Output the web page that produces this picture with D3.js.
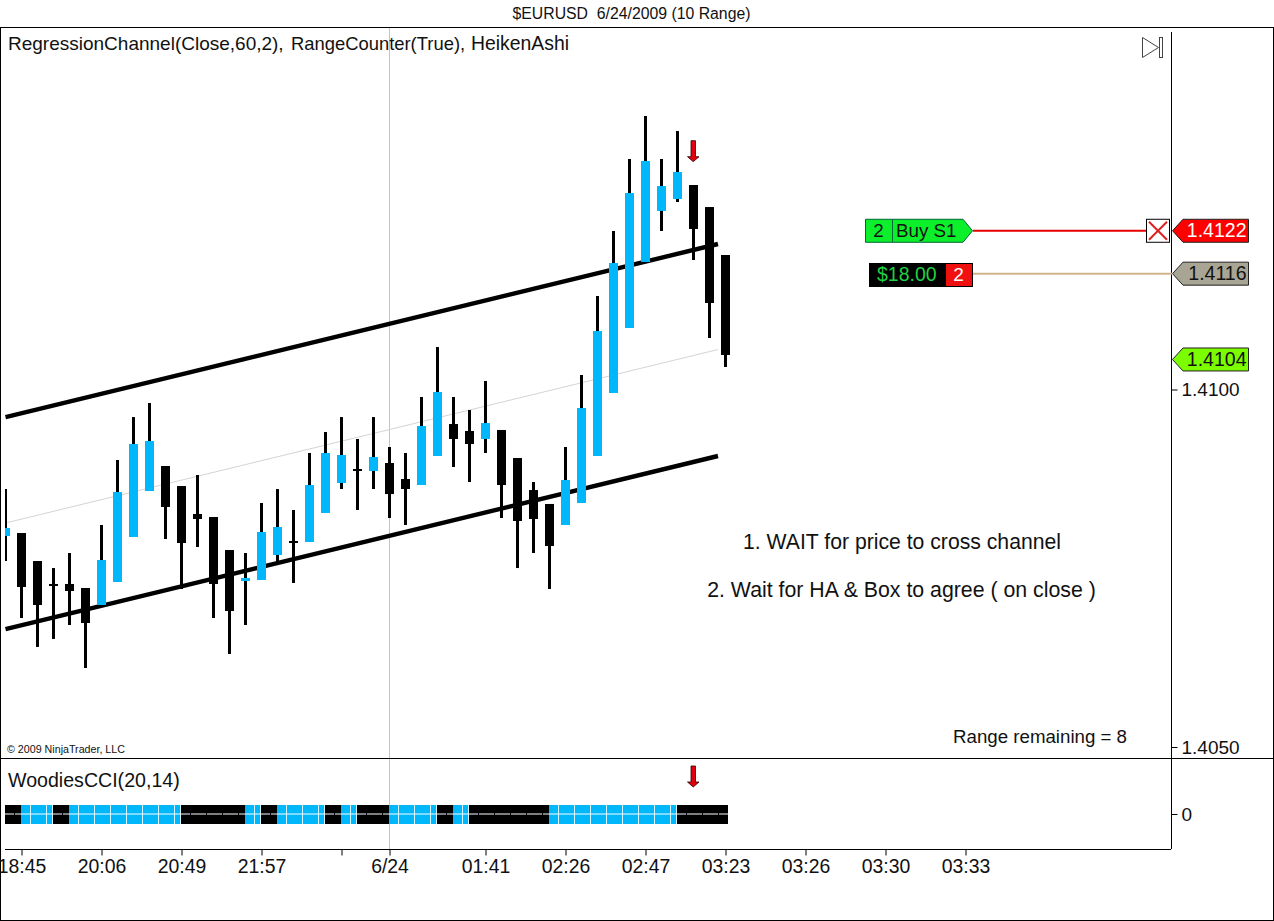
<!DOCTYPE html>
<html><head><meta charset="utf-8">
<script src="https://cdn.jsdelivr.net/npm/d3@7/dist/d3.min.js"></script>
<style>html,body{margin:0;padding:0;background:#fff;overflow:hidden}svg{display:block}text{font-family:"Liberation Sans",Arial,sans-serif;fill:#111}</style>
</head><body><svg id="c" width="1274" height="921"></svg>
<script>
const opens=[1.407951,1.407993,1.407601,1.407280,1.407280,1.407224,1.406986,1.407308,1.407937,1.408580,1.408930,1.408650,1.408259,1.408217,1.407755,1.407322,1.407336,1.407685,1.407881,1.407867,1.408273,1.408692,1.408888,1.408860,1.408972,1.408748,1.408664,1.409070,1.409517,1.409420,1.409308,1.409434,1.409042,1.408594,1.408399,1.408105,1.408413,1.409070,1.409951,1.410860,1.411783,1.412497,1.412664,1.412860,1.412552,1.411881];
const closes=[1.408063,1.407238,1.406986,1.407252,1.407182,1.406734,1.407615,1.408566,1.409238,1.409280,1.408357,1.407853,1.408189,1.407280,1.406902,1.407364,1.408007,1.408077,1.407853,1.408664,1.409112,1.409084,1.408860,1.409056,1.408538,1.408608,1.409490,1.409965,1.409308,1.409238,1.409531,1.408664,1.408161,1.408189,1.407811,1.408734,1.409741,1.410818,1.411769,1.412748,1.413196,1.412846,1.413042,1.412245,1.411210,1.410483];
const highs=[1.408608,1.407993,1.407601,1.407503,1.407713,1.407224,1.408105,1.409014,1.409615,1.409811,1.408930,1.408650,1.408804,1.408217,1.407755,1.407713,1.408413,1.408608,1.408315,1.409112,1.409406,1.409615,1.409308,1.409615,1.409196,1.409112,1.409895,1.410594,1.409895,1.409713,1.410119,1.409434,1.409042,1.408706,1.408399,1.409196,1.410203,1.411308,1.412217,1.413224,1.413825,1.413224,1.413615,1.412860,1.412552,1.411881];
const lows=[1.407601,1.406804,1.406399,1.406511,1.406706,1.406105,1.406986,1.407308,1.407937,1.408580,1.407909,1.407210,1.407797,1.406804,1.406301,1.406706,1.407336,1.407587,1.407294,1.407867,1.408273,1.408608,1.408315,1.408608,1.408203,1.408105,1.408664,1.409070,1.408916,1.408706,1.409112,1.408203,1.407503,1.407713,1.407210,1.408105,1.408413,1.409070,1.409951,1.410860,1.411783,1.412217,1.412622,1.411811,1.410720,1.410315];
const channelIdx=[0,44.53];
const channelUpper=[1.409615,1.412035];
const channelMid=[1.408133,1.410559];
const channelLower=[1.406650,1.409070];
const cciState=[0,1,1,0,1,1,1,1,1,1,1,0,0,0,0,1,0,1,1,1,0,1,0,0,1,1,1,0,1,0,0,0,0,0,1,1,1,1,1,1,1,1,0,0,0,0];
const timeIdx=[1,6,11,16,21,24,30,35,40,45,50,55,60];
const timeLabels=["18:45","20:06","20:49","21:57","","6/24","01:41","02:26","02:47","03:23","03:26","03:30","03:33"];
const priceTicks=[1.4100,1.4050];
const orderPrices=[1.41222,1.41162,1.41042];
const arrowIdx=43;
const arrowPrice=1.41348;

const svg=d3.select("#c");
const x=d3.scaleLinear().domain([0,45]).range([5.5,725.5]);
const y=d3.scaleLinear().domain([1.4050,1.4100]).range([747,389.5]);
const yc=d3.scaleLinear().domain([-1,1]).range([824,805]);
const BLUE="#00b7fb";
const defs=svg.append("defs");
defs.append("clipPath").attr("id","main").append("rect").attr("x",5).attr("y",28).attr("width",1166).attr("height",730);
defs.append("clipPath").attr("id","cc").append("rect").attr("x",5).attr("y",759).attr("width",723).attr("height",90);

svg.append("rect").attr("x",0.5).attr("y",27.5).attr("width",1273).attr("height",893).attr("fill","#fff").attr("stroke","#000");
svg.append("text").attr("x",631.5).attr("y",18.5).attr("text-anchor","middle").style("font-size","15.8px").attr("xml:space","preserve").text("$EURUSD  6/24/2009 (10 Range)");

// grid
svg.append("line").attr("x1",389.5).attr("x2",389.5).attr("y1",28).attr("y2",849).attr("stroke","#c4c4c4");

// channel
const main=svg.append("g").attr("clip-path","url(#main)");
const ln=v=>d3.line().x((d,i)=>x(channelIdx[i])).y(d=>y(d))(v);
main.append("path").attr("d",ln(channelMid)).attr("stroke","#d4d4d4").attr("fill","none");
main.append("path").attr("d",ln(channelUpper)).attr("stroke","#000").attr("stroke-width",4.4).attr("fill","none");
main.append("path").attr("d",ln(channelLower)).attr("stroke","#000").attr("stroke-width",4.4).attr("fill","none");

// candles
const idx=d3.range(opens.length);
main.selectAll("line.w").data(idx).join("line").attr("class","w")
 .attr("x1",i=>x(i)).attr("x2",i=>x(i)).attr("y1",i=>y(highs[i])).attr("y2",i=>y(lows[i]))
 .attr("stroke","#000").attr("stroke-width",3);
main.selectAll("rect.b").data(idx).join("rect").attr("class","b")
 .attr("x",i=>x(i)-4.5).attr("width",9)
 .attr("y",i=>y(Math.max(opens[i],closes[i])))
 .attr("height",i=>Math.abs(y(opens[i])-y(closes[i])))
 .attr("fill",i=>closes[i]>opens[i]?BLUE:"#000");

// arrows
function arrow(g,cx,top){
  g.append("path").attr("d",`M${cx-2},${top}H${cx+2.5}V${top+16}H${cx+6}L${cx+0.25},${top+21}L${cx-5.5},${top+16}H${cx-2}Z`)
   .attr("fill","#e00010").attr("stroke","#300").attr("stroke-width",0.8);
}
arrow(svg,x(arrowIdx)-0.5,y(arrowPrice));
arrow(svg,x(arrowIdx)-0.5,766);

// frame pieces
svg.append("line").attr("x1",0).attr("x2",1274).attr("y1",758.5).attr("y2",758.5).attr("stroke","#000");
svg.append("line").attr("x1",1171.5).attr("x2",1171.5).attr("y1",32).attr("y2",849).attr("stroke","#000");

// CCI strip
const cg=svg.append("g").attr("clip-path","url(#cc)");
cg.selectAll("rect").data(cciState).join("rect").attr("x",(d,i)=>x(i)-0.5).attr("width",16)
  .attr("y",yc(1)).attr("height",yc(-1)-yc(1)).attr("fill",d=>d?BLUE:"#000");
cg.append("line").attr("x1",5).attr("x2",728).attr("y1",yc(0)-0.5).attr("y2",yc(0)-0.5).attr("stroke","#fff");
cg.selectAll("line.v").data(cciState).join("line").attr("class","v")
  .attr("x1",(d,i)=>x(i)+9).attr("x2",(d,i)=>x(i)+9).attr("y1",yc(1)).attr("y2",yc(-1))
  .attr("stroke",d=>d?"#d8f4ff":"#000");
cg.selectAll("line.e").data(cciState).join("line").attr("class","e")
  .attr("x1",(d,i)=>x(i)+15).attr("x2",(d,i)=>x(i)+15).attr("y1",yc(1)).attr("y2",yc(-1))
  .attr("stroke",(d,i)=>d&&!cciState[i+1]?"#d8f4ff":"none");

// x axis
const xa=d3.axisBottom(x).tickValues(timeIdx).tickFormat((d,i)=>timeLabels[i]).tickSize(6).tickPadding(4);
const gx=svg.append("g").attr("transform","translate(0,849.5)").call(xa);
gx.select(".domain").remove();
svg.append("line").attr("x1",5).attr("x2",1171).attr("y1",849.5).attr("y2",849.5).attr("stroke","#000");
gx.selectAll("line").attr("stroke","#000");
// y axes
const ya=d3.axisRight(y).tickValues(priceTicks).tickFormat(d3.format(".4f")).tickSize(6).tickPadding(4);
const gy=svg.append("g").attr("transform","translate(1171.5,0)").call(ya);
gy.select(".domain").remove();
const yb=d3.axisRight(yc).tickValues([0]).tickFormat(d3.format("d")).tickSize(6).tickPadding(4);
const gy2=svg.append("g").attr("transform","translate(1171.5,-0.5)").call(yb);
gy2.select(".domain").remove();
svg.selectAll("g.tick text").style("font-size","19px").attr("fill","#111");
gx.selectAll("text").style("font-size","19.4px").attr("fill","#111");
svg.selectAll("g.tick line").attr("stroke","#000");

// texts
svg.append("text").attr("x",8).attr("y",50).style("font-size","19px").text("RegressionChannel(Close,60,2),");
svg.append("text").attr("x",291).attr("y",50).style("font-size","18.4px").text("RangeCounter(True),");
svg.append("text").attr("x",471).attr("y",50).style("font-size","19.4px").text("HeikenAshi");
svg.append("text").attr("x",8).attr("y",787).style("font-size","19.6px").text("WoodiesCCI(20,14)");
svg.append("text").attr("x",7).attr("y",753).style("font-size","10.7px").text("© 2009 NinjaTrader, LLC");
svg.append("text").attr("x",902).attr("y",549).attr("text-anchor","middle").style("font-size","21.2px").text("1. WAIT for price to cross channel");
svg.append("text").attr("x",901.5).attr("y",597).attr("text-anchor","middle").style("font-size","21.3px").text("2. Wait for HA & Box to agree ( on close )");
svg.append("text").attr("x",953).attr("y",743).style("font-size","18.7px").text("Range remaining = 8");

// play icon
svg.append("path").attr("d","M1142.5,37.5V57.5L1158.5,47.5Z").attr("fill","#fff").attr("stroke","#444");
svg.append("rect").attr("x",1159.5).attr("y",37.5).attr("width",3).attr("height",20).attr("fill","#fff").attr("stroke","#444");

// order: Buy S1
const oy=y(orderPrices[0]), ty=y(orderPrices[1]);
svg.append("line").attr("x1",973).attr("x2",1146).attr("y1",oy).attr("y2",oy).attr("stroke","#e80000").attr("stroke-width",2);
svg.append("path").attr("d",`M865.5,${oy-11.5}H963L972.5,${oy}L963,${oy+11.5}H865.5Z`).attr("fill","#0cf02c").attr("stroke","#063");
svg.append("line").attr("x1",892.5).attr("x2",892.5).attr("y1",oy-11.5).attr("y2",oy+11.5).attr("stroke","#063");
svg.append("text").attr("x",878.5).attr("y",oy+6.5).attr("text-anchor","middle").style("font-size","18.8px").text("2");
svg.append("text").attr("x",896).attr("y",oy+6.5).style("font-size","18.8px").text("Buy S1");
svg.append("rect").attr("x",1146.5).attr("y",oy-11.5).attr("width",23).attr("height",23).attr("fill","#fff").attr("stroke","#000");
svg.append("path").attr("d",`M1149,${oy-9}L1167,${oy+9}M1167,${oy-9}L1149,${oy+9}`).attr("stroke","#e02020").attr("stroke-width",2);

// order: PnL
svg.append("line").attr("x1",973).attr("x2",1172).attr("y1",ty).attr("y2",ty).attr("stroke","#d2b48c").attr("stroke-width",2);
svg.append("rect").attr("x",869.5).attr("y",263.5).attr("width",103).attr("height",23).attr("fill","#000").attr("stroke","#000");
svg.append("rect").attr("x",946).attr("y",264).attr("width",26).attr("height",22).attr("fill","#f01010");
svg.append("text").attr("x",877).attr("y",281).style("font-size","19.5px").style("fill","#20d040").text("$18.00");
svg.append("text").attr("x",958.5).attr("y",281).attr("text-anchor","middle").style("font-size","19px").style("fill","#fff").text("2");

// price labels
const labelFill=["#ff0000","#a9a595","#7cfc00"], labelText=["#fff","#111","#111"];
orderPrices.forEach((p,i)=>{
  const py=y(p);
  svg.append("path").attr("d",`M1172.5,${py}L1183,${py-11.5}H1248.5V${py+11.5}H1183Z`).attr("fill",labelFill[i]).attr("stroke","#222");
  svg.append("text").attr("x",1246.5).attr("y",py+6.5).attr("text-anchor","end").style("font-size","19.5px").style("fill",labelText[i]).text(d3.format(".4f")(p));
});
</script></body></html>
